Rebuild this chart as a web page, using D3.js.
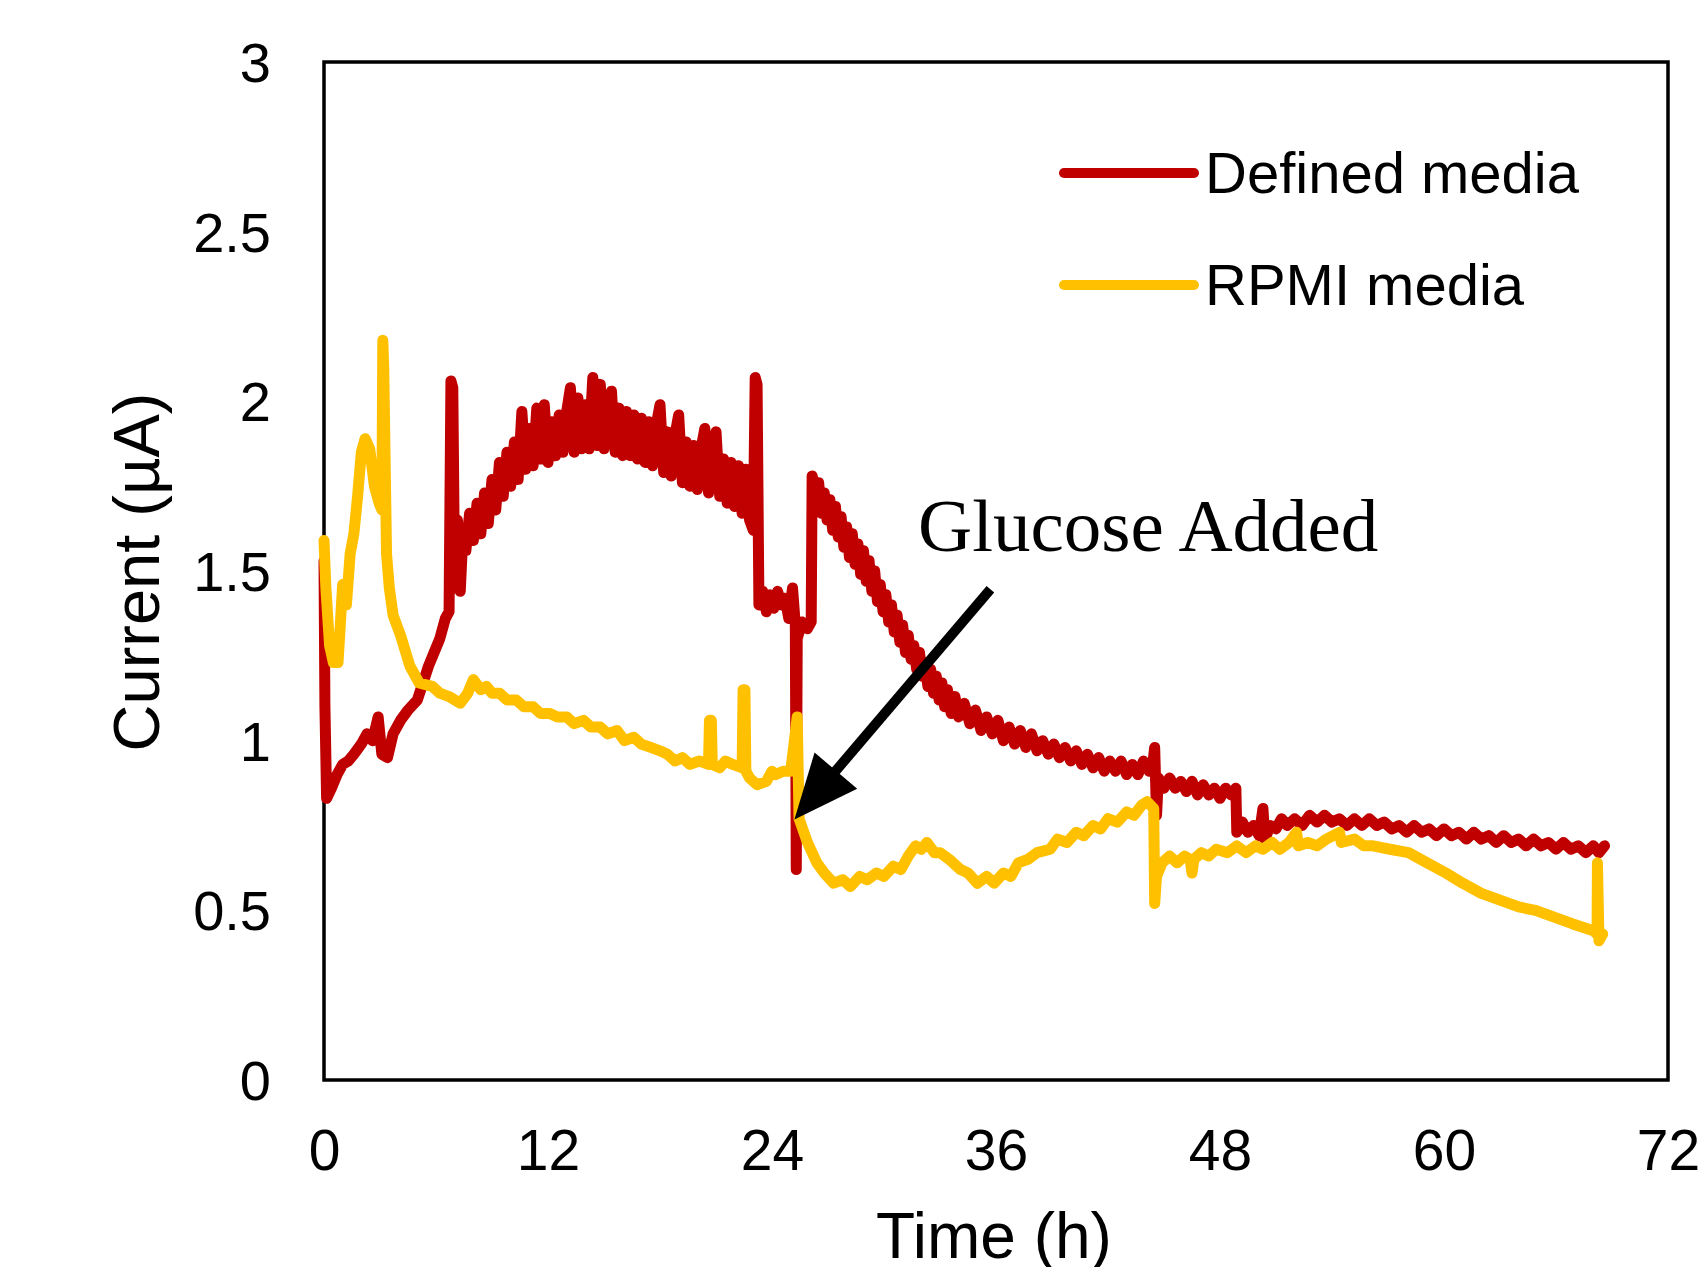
<!DOCTYPE html>
<html>
<head>
<meta charset="utf-8">
<script src="https://cdn.jsdelivr.net/npm/d3@7"></script>
<style>
  html, body { margin: 0; padding: 0; background: #fff; }
  svg { display: block; }
  text { font-family: "Liberation Sans", Arial, sans-serif; fill: #000; }
</style>
</head>
<body>
<svg id="chart" width="1698" height="1267"></svg>
<script>
// ---------- data ----------
const xTicks = [0, 12, 24, 36, 48, 60, 72];
const yTicks = [0, 0.5, 1, 1.5, 2, 2.5, 3];
const yTickLabels = ["0", "0.5", "1", "1.5", "2", "2.5", "3"];
const seriesNames = ["Defined media", "RPMI media"];
const seriesColors = ["#C00000", "#FFC000"];

// Defined media: [time (h), current (µA)]
const definedSeries = [
  [0.00,1.53],[0.05,1.10],[0.14,0.83],[0.4,0.86],[0.7,0.90],[1.0,0.93],[1.3,0.94],[1.6,0.96],[2.0,0.99],[2.3,1.02],
  [2.6,1.00],[2.9,1.07],[3.1,0.96],[3.4,0.95],[3.7,1.02],[4.1,1.06],[4.5,1.09],[5.0,1.12],[5.3,1.17],[5.6,1.22],
  [5.9,1.26],[6.2,1.30],[6.5,1.36],[6.7,1.38],[6.8,2.06],[6.9,2.04],[7.0,1.45],[7.15,1.65],[7.3,1.44],[7.45,1.62],
  [7.6,1.56],[7.8,1.67],[8.0,1.59],[8.2,1.70],[8.4,1.61],[8.6,1.73],[8.8,1.64],[9.0,1.77],[9.2,1.68],[9.4,1.82],
  [9.6,1.72],[9.8,1.85],[10.0,1.75],[10.2,1.88],[10.4,1.77],[10.6,1.97],[10.8,1.80],[11.0,1.92],[11.2,1.81],[11.4,1.98],
  [11.6,1.83],[11.8,1.99],[12.0,1.82],[12.2,1.94],[12.4,1.84],[12.6,1.96],[12.8,1.85],[13.0,1.97],[13.2,2.04],[13.4,1.85],
  [13.6,2.01],[13.8,1.86],[14.0,1.99],[14.2,1.86],[14.4,2.07],[14.6,1.87],[14.8,2.05],[15.0,1.86],[15.2,1.99],[15.4,2.03],
  [15.6,1.85],[15.8,1.98],[16.0,1.84],[16.2,1.97],[16.4,1.84],[16.6,1.96],[16.8,1.83],[17.0,1.95],[17.2,1.82],[17.4,1.94],
  [17.6,1.81],[17.8,1.93],[18.0,1.99],[18.2,1.79],[18.4,1.91],[18.6,1.78],[18.8,1.90],[19.0,1.96],[19.2,1.76],[19.4,1.88],
  [19.6,1.75],[19.8,1.87],[20.0,1.74],[20.2,1.86],[20.4,1.92],[20.6,1.73],[20.8,1.85],[21.0,1.91],[21.2,1.72],[21.4,1.83],
  [21.6,1.70],[21.8,1.82],[22.0,1.69],[22.2,1.81],[22.4,1.67],[22.6,1.80],[22.8,1.65],[23.0,1.62],[23.1,2.07],[23.2,2.05],
  [23.3,1.40],[23.5,1.44],[23.7,1.38],[23.9,1.43],[24.1,1.39],[24.3,1.44],[24.5,1.40],[24.7,1.42],[24.9,1.36],[25.1,1.45],
  [25.25,1.34],[25.3,0.62],[25.35,1.30],[25.6,1.35],[25.9,1.33],[26.1,1.35],[26.15,1.78],
  [26.2,1.77],[26.35,1.69],[26.5,1.76],[26.65,1.67],[26.8,1.73],[26.95,1.65],[27.1,1.71],[27.25,1.62],[27.4,1.69],[27.55,1.60],
  [27.7,1.66],[27.85,1.57],[28.0,1.63],[28.15,1.54],[28.3,1.61],[28.45,1.52],[28.6,1.58],[28.75,1.49],[28.9,1.56],[29.05,1.47],
  [29.2,1.53],[29.35,1.44],[29.5,1.50],[29.65,1.41],[29.8,1.46],[29.95,1.38],[30.1,1.43],[30.25,1.35],[30.4,1.40],[30.55,1.32],
  [30.7,1.37],[30.85,1.29],[31.0,1.34],[31.15,1.26],[31.3,1.31],[31.45,1.24],[31.6,1.28],[31.75,1.21],[31.9,1.26],[32.05,1.19],
  [32.2,1.23],[32.35,1.16],[32.5,1.21],[32.65,1.14],[32.8,1.19],[32.95,1.12],[33.1,1.17],[33.25,1.10],[33.4,1.15],[33.6,1.08],
  [33.8,1.13],[34.0,1.07],
  [34.3,1.11],[34.6,1.05],[34.9,1.09],[35.2,1.03],[35.5,1.07],[35.8,1.02],[36.1,1.06],[36.4,1.00],[36.7,1.04],[37.0,0.99],
  [37.3,1.03],[37.6,0.98],[37.9,1.02],[38.2,0.97],[38.5,1.00],[38.8,0.96],[39.1,0.99],[39.4,0.95],[39.7,0.98],[40.0,0.94],
  [40.3,0.97],[40.6,0.93],[40.9,0.96],[41.2,0.92],[41.5,0.95],[41.8,0.91],[42.1,0.94],[42.4,0.91],[42.7,0.94],[43.0,0.90],
  [43.3,0.93],[43.6,0.90],[43.9,0.94],[44.2,0.91],[44.4,0.93],[44.5,0.98],[44.6,0.78],[44.7,0.89],[45.0,0.86],[45.3,0.89],
  [45.6,0.86],[45.9,0.88],[46.2,0.85],[46.5,0.88],[46.8,0.84],[47.1,0.87],[47.4,0.84],[47.7,0.86],[48.0,0.83],[48.3,0.86],
  [48.6,0.84],[48.85,0.86],[48.9,0.73],[49.2,0.76],[49.5,0.73],[49.8,0.75],[50.1,0.72],[50.3,0.80],[50.4,0.71],[50.7,0.75],
  [51.0,0.74],[51.3,0.77],[51.6,0.75],[52.0,0.77],[52.4,0.75],[52.8,0.78],[53.2,0.76],[53.6,0.78],[54.0,0.76],[54.4,0.77],
  [54.8,0.75],[55.2,0.77],[55.6,0.75],[56.0,0.77],[56.4,0.75],[56.8,0.76],[57.2,0.74],[57.6,0.75],[58.0,0.73],[58.4,0.75],
  [58.8,0.73],[59.2,0.74],[59.6,0.72],[60.0,0.74],[60.4,0.72],[60.8,0.73],[61.2,0.71],[61.6,0.73],[62.0,0.71],[62.4,0.72],
  [62.8,0.70],[63.2,0.72],[63.6,0.70],[64.0,0.71],[64.4,0.69],[64.8,0.71],[65.2,0.69],[65.6,0.70],[66.0,0.68],[66.4,0.70],
  [66.8,0.68],[67.2,0.69],[67.6,0.67],[68.0,0.69],[68.3,0.67],[68.6,0.69]
];

// RPMI media: [time (h), current (µA)]
const rpmiSeries = [
  [0.00,1.59],[0.1,1.45],[0.3,1.28],[0.5,1.23],[0.75,1.23],[0.85,1.32],[1.0,1.46],[1.2,1.40],[1.4,1.55],[1.6,1.61],
  [1.8,1.72],[2.0,1.85],[2.2,1.89],[2.45,1.86],[2.7,1.75],[2.95,1.70],[3.1,1.68],[3.15,2.18],[3.2,2.10],[3.35,1.55],
  [3.5,1.45],[3.7,1.37],[4.1,1.31],[4.6,1.22],[5.1,1.17],[5.8,1.16],[6.2,1.14],[6.7,1.13],[7.3,1.11],[7.7,1.14],
  [8.0,1.18],[8.4,1.15],[8.7,1.16],[9.0,1.14],[9.4,1.14],[9.8,1.12],[10.3,1.12],[10.7,1.10],[11.2,1.10],[11.6,1.08],
  [12.1,1.08],[12.5,1.07],[13.0,1.07],[13.4,1.05],[13.9,1.06],[14.3,1.04],[14.8,1.04],[15.2,1.02],[15.7,1.03],[16.1,1.00],
  [16.6,1.01],[17.0,0.99],[17.5,0.98],[18.0,0.97],[18.4,0.96],[18.8,0.94],[19.2,0.95],[19.6,0.93],[20.1,0.94],[20.6,0.93],
  [20.65,1.06],[20.75,1.06],[20.8,0.93],[21.2,0.92],[21.5,0.94],[21.9,0.93],[22.4,0.92],[22.45,1.15],[22.55,1.15],[22.6,0.91],
  [22.8,0.89],[23.2,0.87],[23.7,0.88],[24.0,0.91],[24.2,0.90],[24.6,0.91],[25.0,0.91],[25.2,1.00],[25.35,1.07],[25.45,0.77],
  [25.9,0.70],[26.4,0.64],[26.8,0.61],[27.3,0.58],[27.8,0.59],[28.2,0.57],[28.7,0.60],[29.1,0.59],[29.6,0.61],[30.0,0.60],
  [30.5,0.63],[30.9,0.62],[31.3,0.66],[31.7,0.69],[32.0,0.68],[32.3,0.70],[32.7,0.67],[33.0,0.67],[33.5,0.65],[34.1,0.62],
  [34.5,0.61],[35.0,0.58],[35.5,0.60],[35.9,0.58],[36.4,0.61],[36.8,0.60],[37.2,0.64],[37.7,0.65],[38.2,0.67],[38.9,0.68],
  [39.3,0.71],[39.8,0.70],[40.3,0.73],[40.7,0.72],[41.2,0.75],[41.6,0.74],[42.0,0.77],[42.5,0.76],[43.0,0.79],[43.4,0.78],
  [43.8,0.81],[44.1,0.82],[44.45,0.80],[44.5,0.52],[44.6,0.60],[44.9,0.64],[45.3,0.66],[45.7,0.64],[46.1,0.66],[46.4,0.65],
  [46.5,0.61],[46.6,0.65],[47.0,0.67],[47.4,0.66],[47.8,0.68],[48.4,0.67],[48.9,0.69],[49.4,0.67],[49.9,0.69],[50.3,0.68],
  [50.8,0.70],[51.2,0.68],[51.7,0.70],[52.1,0.73],[52.2,0.69],[52.7,0.70],[53.2,0.69],[53.7,0.71],[54.4,0.73],[54.5,0.70],
  [55.2,0.71],[55.7,0.69],[56.2,0.69],[57.1,0.68],[58.1,0.67],[59.1,0.64],[60.1,0.61],[61.0,0.58],[62.0,0.55],[63.0,0.53],
  [64.0,0.51],[64.9,0.50],[65.9,0.48],[66.9,0.46],[68.0,0.44],[68.2,0.43],[68.22,0.64],[68.3,0.41],[68.5,0.43]
];

const annotationText = "Glucose Added";
const annotationArrow = { fromT: 35.7, fromV: 1.446, toT: 25.2, toV: 0.768 };

(function draw() {
  const svg = d3.select("#chart");
  svg.append("rect").attr("width", 1698).attr("height", 1267).attr("fill", "#fff");

  const mLeft = 324, mRight = 1668, mTop = 62, mBottom = 1080;
  const x = d3.scaleLinear().domain([0, 72]).range([mLeft, mRight]);
  const y = d3.scaleLinear().domain([0, 3]).range([mBottom, mTop]);

  // Y axis labels
  const yAxis = d3.axisLeft(y).tickValues(yTicks).tickSize(0).tickPadding(53)
    .tickFormat((d, i) => yTickLabels[i]);
  const gy = svg.append("g").attr("transform", `translate(${mLeft},0)`).call(yAxis);
  gy.select(".domain").remove();
  gy.selectAll("text").attr("font-size", 56).attr("font-family", "Liberation Sans, Arial, sans-serif")
    .attr("fill", "#000").attr("dy", "0.35em");

  // X axis labels
  const xAxis = d3.axisBottom(x).tickValues(xTicks).tickSize(0).tickPadding(50)
    .tickFormat(d3.format("d"));
  const gx = svg.append("g").attr("transform", `translate(0,${mBottom})`).call(xAxis);
  gx.select(".domain").remove();
  gx.selectAll("text").attr("font-size", 57).attr("font-family", "Liberation Sans, Arial, sans-serif")
    .attr("fill", "#000").attr("dy", "0.71em");

  // Frame
  svg.append("rect").attr("x", mLeft).attr("y", mTop).attr("width", mRight - mLeft).attr("height", mBottom - mTop)
    .attr("fill", "none").attr("stroke", "#000").attr("stroke-width", 3.5);

  // Lines
  const line = d3.line().x(d => x(d[0])).y(d => y(d[1]));
  [definedSeries, rpmiSeries].forEach((data, i) => {
    svg.append("path").datum(data).attr("d", line)
      .attr("fill", "none").attr("stroke", seriesColors[i]).attr("stroke-width", 11)
      .attr("stroke-linejoin", "round").attr("stroke-linecap", "round");
  });

  // Legend
  const legendY = [173, 285];
  seriesNames.forEach((name, i) => {
    svg.append("line").attr("x1", 1064).attr("x2", 1194).attr("y1", legendY[i]).attr("y2", legendY[i])
      .attr("stroke", seriesColors[i]).attr("stroke-width", 10).attr("stroke-linecap", "round");
    svg.append("text").attr("x", 1205).attr("y", legendY[i] + 20).attr("font-size", 58)
      .text(name);
  });

  // Annotation
  svg.append("text").attr("x", 918).attr("y", 551).attr("font-size", 75)
    .style("font-family", "'Liberation Serif', 'Times New Roman', serif").text(annotationText);

  const ax1 = x(annotationArrow.fromT), ay1 = y(annotationArrow.fromV);
  const ax2 = x(annotationArrow.toT), ay2 = y(annotationArrow.toV);
  const ang = Math.atan2(ay2 - ay1, ax2 - ax1);
  const headLen = 64, headHalf = 28;
  const bx = ax2 - headLen * Math.cos(ang), by = ay2 - headLen * Math.sin(ang);
  svg.append("line").attr("x1", ax1).attr("y1", ay1).attr("x2", bx + 5 * Math.cos(ang)).attr("y2", by + 5 * Math.sin(ang))
    .attr("stroke", "#000").attr("stroke-width", 10);
  svg.append("path")
    .attr("d", `M${ax2},${ay2} L${bx - headHalf * Math.sin(ang)},${by + headHalf * Math.cos(ang)} L${bx + headHalf * Math.sin(ang)},${by - headHalf * Math.cos(ang)} Z`)
    .attr("fill", "#000");

  // Axis titles
  svg.append("text").attr("x", 994).attr("y", 1258).attr("text-anchor", "middle").attr("font-size", 64)
    .text("Time (h)");
  svg.append("text").attr("transform", "translate(159,572) rotate(-90)").attr("text-anchor", "middle")
    .attr("font-size", 65).text("Current (µA)");
})();
</script>
</body>
</html>
